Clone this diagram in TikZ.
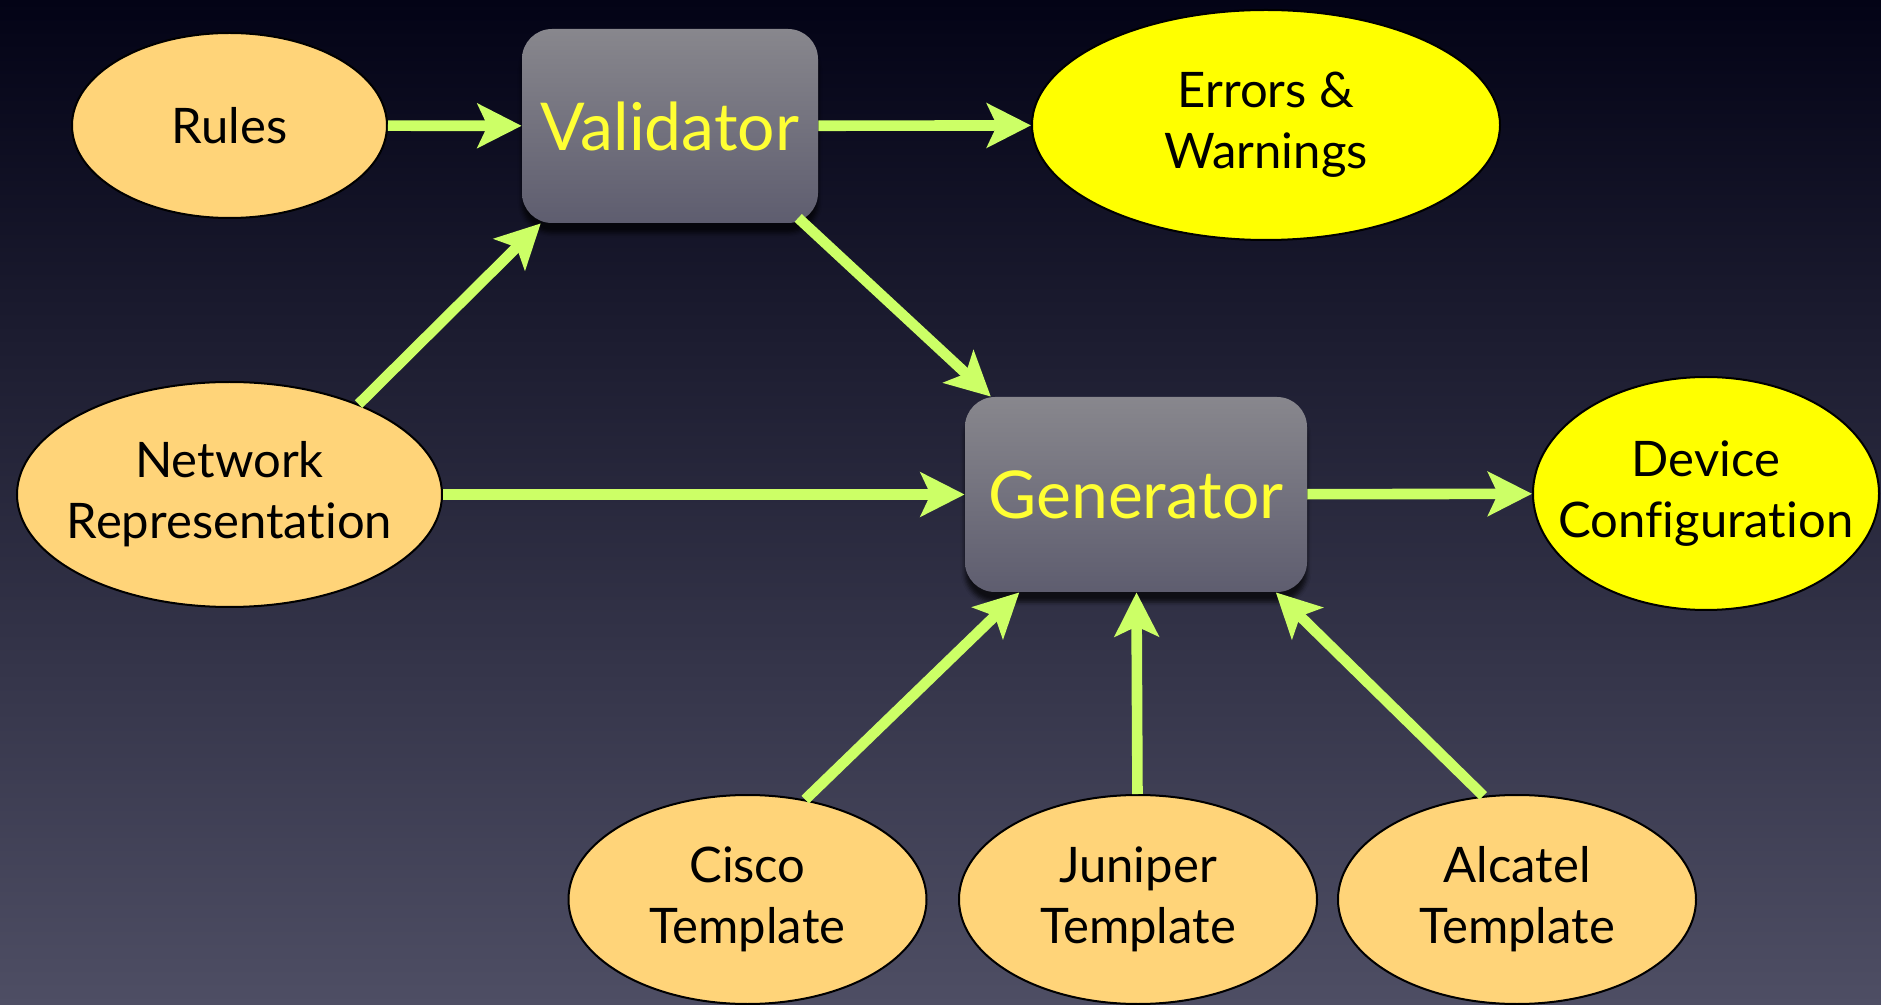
\documentclass[tikz,border=0pt]{standalone}
\usepackage{fontspec}
\setmainfont{Lato}[Ligatures=NoCommon]
\usepackage{xcolor}
\usepackage{tikz}
\usetikzlibrary{shapes.geometric, arrows.meta, shadows.blur}

\definecolor{bgtop}{RGB}{3,3,22}
\definecolor{bgbottom}{RGB}{78,78,100}
\definecolor{inputfill}{RGB}{255,212,121}
\definecolor{outputfill}{RGB}{255,255,0}
\definecolor{flowgreen}{RGB}{204,255,102}
\definecolor{boxtop}{RGB}{136,135,141}
\definecolor{boxbottom}{RGB}{94,93,111}
\definecolor{boxtext}{RGB}{255,255,51}

\begin{document}
\begin{tikzpicture}[x=0.5pt, y=-0.5pt,
    input/.style={ellipse, draw=black, line width=1pt, fill=inputfill, align=center,
      inner xsep=-16pt, inner ysep=0pt, font=\fontsize{24.5}{30.5}\selectfont},
    output/.style={input, fill=outputfill},
    stage/.style={rectangle, rounded corners=15pt, top color=boxtop, bottom color=boxbottom,
      text=boxtext, inner sep=0pt, font=\fontsize{33}{38}\selectfont,
      blur shadow={shadow xshift=0pt, shadow yshift=-5pt, shadow opacity=70}},
    flow/.style={line width=5.3pt, draw=flowgreen, -{Stealth[length=22pt, width=22pt, inset=5pt]}}]

    % fond degrade
    \useasboundingbox (0,0) rectangle (1881,1005);
    \shade[top color=bgtop, bottom color=bgbottom] (0,0) rectangle (1881,1005);

    % entrees et sorties
    \node[input, minimum width=157.5pt, minimum height=92.5pt] (rules) at (229.5,125.5) {Rules};
    \node[input, minimum width=212.5pt, minimum height=112.5pt] (network) at (229.5,494.5) {Network\\Representation};
    \node[output, minimum width=234pt, minimum height=115pt] (errors) at (1266,125) {Errors \&\\Warnings};
    \node[output, minimum width=173pt, minimum height=116.5pt] (device) at (1706,493.5) {Device\\Configuration};
    \foreach \n/\x/\lbl in {cisco/747.5/Cisco, juniper/1138/Juniper, alcatel/1517/Alcatel} {
      \node[input, minimum width=179pt, minimum height=104.5pt] (\n) at (\x,899.5) {\lbl\\Template};
    }

    % etapes
    \node[stage, minimum width=148pt, minimum height=97pt] (validator) at (670,126) {Validator};
    \node[stage, minimum width=171pt, minimum height=97.5pt] (generator) at (1136,494.5) {Generator};

    % fleches
    \draw[flow] (rules) -- (validator);
    \draw[flow] (validator) -- (errors);
    \draw[flow] (network.35) -- (validator.217);
    \draw[flow, shorten <=-4pt] (validator.-36) -- (generator.146);
    \draw[flow] (network) -- (generator);
    \draw[flow] (generator) -- (device);
    \draw[flow] (cisco.60) -- (generator.220);
    \draw[flow] (juniper) -- (generator);
    \draw[flow] (alcatel.108) -- (generator.-35);
\end{tikzpicture}
\end{document}
